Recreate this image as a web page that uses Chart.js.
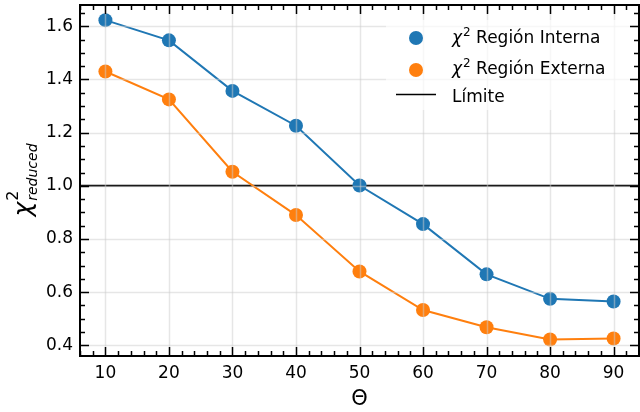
<!DOCTYPE html>
<html>
<head>
<meta charset="utf-8">
<script src="https://cdn.jsdelivr.net/npm/chart.js@4.4.1/dist/chart.umd.min.js"></script>
<style>
  html, body { margin: 0; padding: 0; background: #fff; }
  #wrap { width: 640px; height: 412px; }
</style>
</head>
<body>
<div id="wrap"><canvas id="chart" width="640" height="412"></canvas></div>
<script>
// values
const theta = [10, 20, 30, 40, 50, 60, 70, 80, 90];
const interna = [1.623, 1.547, 1.357, 1.226, 1.001, 0.856, 0.667, 0.575, 0.565];
const externa = [1.430, 1.325, 1.053, 0.890, 0.678, 0.533, 0.468, 0.422, 0.426];
const limite = 1.0;
const xBounds = [6, 94];
const yBounds = [0.36, 1.68];
const xTickLabels = ['10', '20', '30', '40', '50', '60', '70', '80', '90'];
const yTickLabels = ['0.4', '0.6', '0.8', '1.0', '1.2', '1.4', '1.6'];

const BLUE = '#1f77b4';
const ORANGE = '#ff7f0e';
const FONT = '"DejaVu Sans", sans-serif';

const toPoints = (ys) => theta.map((t, i) => ({ x: t, y: ys[i] }));

const noPadding = (scale) => {
    scale.paddingLeft = scale.paddingRight = 0;
    scale.paddingTop = scale.paddingBottom = 0;
};

// label gap comes from an invisible tick length, ticks.padding stays 0
const hiddenGrid = { display: true, drawOnChartArea: false, drawTicks: true, tickLength: 7, color: 'rgba(0,0,0,0)' };

// inward ticks on all four sides, grid on top of markers, legend, titles
const decorations = {
    id: 'decorations',
    afterDatasetsDraw(chart) {
        const ctx = chart.ctx;
        const { left, right, top, bottom } = chart.chartArea;
        const xs = chart.scales.x;
        const ys = chart.scales.y;
        const xMajor = xTickLabels.map(Number);
        const yMajor = yTickLabels.map(Number);

        ctx.save();

        // grid
        ctx.strokeStyle = 'rgba(205,205,205,0.5)';
        ctx.lineWidth = 1.5;
        xMajor.forEach(v => {
            const px = Math.round(xs.getPixelForValue(v)) + 0.5;
            ctx.beginPath(); ctx.moveTo(px, top); ctx.lineTo(px, bottom); ctx.stroke();
        });
        yMajor.forEach(v => {
            const py = Math.round(ys.getPixelForValue(v)) + 0.5;
            ctx.beginPath(); ctx.moveTo(left, py); ctx.lineTo(right, py); ctx.stroke();
        });

        // legend
        ctx.fillStyle = 'rgba(255,255,255,0.7)';
        ctx.fillRect(386, 20, 246, 90);

        ctx.fillStyle = BLUE;
        ctx.beginPath(); ctx.arc(416, 38, 7, 0, Math.PI * 2); ctx.fill();
        ctx.fillStyle = ORANGE;
        ctx.beginPath(); ctx.arc(416, 70, 7, 0, Math.PI * 2); ctx.fill();
        ctx.strokeStyle = '#000';
        ctx.lineWidth = 1.5;
        ctx.beginPath(); ctx.moveTo(396, 94.5); ctx.lineTo(436, 94.5); ctx.stroke();

        const chiLabel = (x, y, rest) => {
            ctx.fillStyle = '#000';
            ctx.textBaseline = 'alphabetic';
            ctx.textAlign = 'left';
            ctx.font = 'italic 17px ' + FONT;
            ctx.fillText('χ', x, y);
            let cx = x + ctx.measureText('χ').width + 1;
            ctx.font = '12px ' + FONT;
            ctx.fillText('2', cx, y - 7);
            cx += ctx.measureText('2').width;
            ctx.font = '17px ' + FONT;
            ctx.fillText(rest, cx, y);
        };
        chiLabel(452, 42.5, ' Región Interna');
        chiLabel(452, 74, ' Región Externa');
        ctx.font = '17px ' + FONT;
        ctx.fillText('Límite', 452, 102);

        // tick marks
        ctx.strokeStyle = '#000';
        ctx.lineWidth = 1.5;
        const tick = (x1, y1, x2, y2) => {
            ctx.beginPath(); ctx.moveTo(x1, y1); ctx.lineTo(x2, y2); ctx.stroke();
        };
        for (let v = xBounds[0]; v <= xBounds[1] + 1e-9; v += 2) {
            const px = Math.round(xs.getPixelForValue(v)) + 0.5;
            const len = xMajor.includes(v) ? 9 : 5;
            tick(px, bottom, px, bottom - len);
            tick(px, top, px, top + len);
        }
        for (let k = 8; k <= 33; k++) {
            const v = k * 0.05;
            if (v < yBounds[0] || v > yBounds[1]) continue;
            const py = Math.round(ys.getPixelForValue(v)) + 0.5;
            const len = (k % 4 === 0) ? 9 : 5;
            tick(left, py, left + len, py);
            tick(right, py, right - len, py);
        }

        // frame
        ctx.lineWidth = 2;
        ctx.strokeRect(left, top, right - left, bottom - top);

        // x title
        ctx.fillStyle = '#000';
        ctx.textAlign = 'center';
        ctx.textBaseline = 'alphabetic';
        ctx.font = '21px ' + FONT;
        ctx.fillText('Θ', (left + right) / 2, 405);

        // y title, rotated
        ctx.translate(31, (top + bottom) / 2);
        ctx.rotate(-Math.PI / 2);
        ctx.textAlign = 'left';
        ctx.font = 'italic 25px ' + FONT;
        const wChi = ctx.measureText('χ').width;
        ctx.font = 'italic 14px ' + FONT;
        const wSub = ctx.measureText('reduced').width;
        let sx = -(wChi + wSub) / 2;
        ctx.font = 'italic 25px ' + FONT;
        ctx.fillText('χ', sx, 0);
        sx += wChi + 1;
        ctx.font = '16px ' + FONT;
        ctx.fillText('2', sx, -13);
        ctx.font = 'italic 14px ' + FONT;
        ctx.fillText('reduced', sx, 6);

        ctx.restore();
    }
};

new Chart(document.getElementById('chart'), {
    type: 'line',
    data: {
        datasets: [
            {
                label: 'χ² Región Interna',
                data: toPoints(interna),
                borderColor: BLUE,
                backgroundColor: BLUE,
                borderWidth: 2,
                pointRadius: 7,
                pointBorderWidth: 0,
                pointBackgroundColor: BLUE
            },
            {
                label: 'χ² Región Externa',
                data: toPoints(externa),
                borderColor: ORANGE,
                backgroundColor: ORANGE,
                borderWidth: 2,
                pointRadius: 7,
                pointBorderWidth: 0,
                pointBackgroundColor: ORANGE
            },
            {
                label: 'Límite',
                data: [{ x: xBounds[0], y: limite }, { x: xBounds[1], y: limite }],
                borderColor: '#000',
                borderWidth: 2,
                pointRadius: 0
            }
        ]
    },
    options: {
        responsive: false,
        animation: false,
        devicePixelRatio: 1,
        layout: { autoPadding: false, padding: { top: 5, right: 1, bottom: 0, left: 0 } },
        plugins: {
            legend: { display: false },
            tooltip: { enabled: false }
        },
        scales: {
            x: {
                type: 'linear',
                min: xBounds[0],
                max: xBounds[1],
                grid: hiddenGrid,
                border: { display: false },
                ticks: {
                    stepSize: 10,
                    includeBounds: false,
                    padding: 0,
                    color: '#000',
                    font: { family: FONT, size: 17 },
                    callback: v => xTickLabels.includes(String(v)) ? String(v) : ''
                },
                afterFit(scale) {
                    scale.height = 56;
                    noPadding(scale);
                }
            },
            y: {
                type: 'linear',
                min: yBounds[0],
                max: yBounds[1],
                grid: hiddenGrid,
                border: { display: false },
                ticks: {
                    stepSize: 0.2,
                    includeBounds: false,
                    padding: 0,
                    color: '#000',
                    font: { family: FONT, size: 17 },
                    callback: v => {
                        const s = Number(v).toFixed(1);
                        return yTickLabels.includes(s) ? s : '';
                    }
                },
                afterFit(scale) {
                    scale.width = 80;
                    noPadding(scale);
                }
            }
        }
    },
    plugins: [decorations]
});
</script>
</body>
</html>
